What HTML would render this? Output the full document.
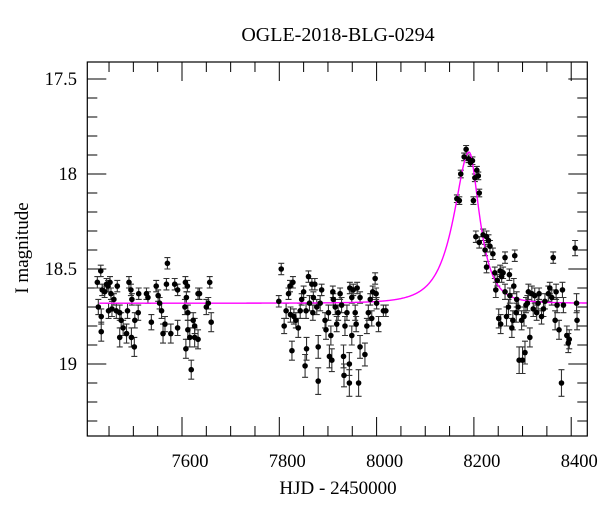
<!DOCTYPE html>
<html><head><meta charset="utf-8">
<style>
html,body{margin:0;padding:0;background:#fff;}
svg{display:block;font-family:"Liberation Serif",serif;}
</style></head>
<body>
<svg id="chart" width="600" height="512" viewBox="0 0 600 512" xmlns="http://www.w3.org/2000/svg">
<rect x="0" y="0" width="600" height="512" fill="#fff"/>
<text x="338" y="41" font-size="20" text-anchor="middle">OGLE-2018-BLG-0294</text>
<text x="338" y="494" font-size="19" text-anchor="middle">HJD - 2450000</text>
<text transform="translate(28,248) rotate(-90)" font-size="19" text-anchor="middle">I magnitude</text>
<g id="ticks"></g>
<g id="errs"></g>
<path id="model" fill="none" stroke="#ff00ff" stroke-width="1.4"/>
<g id="pts"></g>
<rect x="87.3" y="62" width="500" height="374" fill="none" stroke="#000" stroke-width="1.2"/>
</svg>
<script>
const xTickLabels = [7600, 7800, 8000, 8200, 8400];
const yTickLabels = [17.5, 18, 18.5, 19];
const modelParams = [8190, 0.53, 52, 36, 18.68]; // t0, u0, tE(rise), tE(decline), baseline
const obsDays = [7433,7426,7428,7434,7434,7436,7441,7445,7448,7452,7454,7449,7456,7460,7465,7467,7472,7475,7472,7479,7486,7488,7491,7495,7497,7496,7502,7503,7510,7511,7527,7537,7530,7547,7551,7554,7558,7561,7565,7568,7570,7577,7585,7591,7591,7606,7607,7609,7611,7612,7612,7608,7616,7619,7623,7626,7633,7636,7626,7633,7650,7654,7657,7660,
7804,7799,7810,7814,7819,7822,7826,7828,7823,7830,7834,7839,7843,7846,7850,7853,7856,7855,7860,7862,7867,7870,7873,7869,7877,7880,7880,7884,7887,7894,7896,7901,7903,7906,7908,7910,7911,7915,7918,7921,7925,7928,7932,7933,7935,7939,7944,7944,7945,7949,7949,7952,7956,7958,7960,7963,7966,7966,7976,7980,7983,7987,7990,7992,7997,7999,8000,8004,8014,8019,
8165,8170,8173,8180,8184,8189,8193,8197,8199,8202,8206,8209,8211,8204,8211,8219,8223,8226,8226,8230,8233,8239,8243,8245,8248,8251,8254,8255,8257,8260,8264,8264,8267,8271,8273,8274,8278,8280,8282,8284,8287,8288,8291,8293,8298,8300,8303,8305,8307,8310,8312,8315,8319,8322,8325,8329,8332,8334,8339,8343,8346,8353,8356,8360,8363,8367,8369,8371,8375,8380,8382,8384,8391,8394,8396,8408,8411,8412];
const obsMags = [18.51,18.57,18.70,18.75,18.83,18.61,18.62,18.58,18.59,18.57,18.63,18.72,18.71,18.66,18.72,18.59,18.73,18.77,18.86,18.81,18.84,18.72,18.57,18.61,18.66,18.86,18.91,18.77,18.73,18.63,18.63,18.78,18.65,18.59,18.64,18.68,18.72,18.84,18.79,18.58,18.47,18.84,18.58,18.61,18.81,18.70,18.57,18.65,18.59,18.73,18.82,18.92,18.86,19.03,18.77,18.80,18.63,18.63,18.86,18.87,18.70,18.68,18.57,18.78,
18.50,18.67,18.80,18.72,18.63,18.59,18.93,18.57,18.74,18.75,18.77,18.81,18.72,18.66,18.62,19.01,18.92,18.72,18.54,18.68,18.58,18.65,18.58,18.73,18.70,18.91,19.09,18.68,18.61,18.77,18.82,18.73,18.96,18.85,18.98,18.62,18.66,18.70,18.79,18.73,18.63,18.69,18.96,19.06,18.80,18.73,19.00,19.10,18.60,18.65,18.85,18.61,18.73,18.79,18.60,19.10,18.91,18.65,18.95,18.80,18.73,18.66,18.76,18.62,18.55,18.63,18.68,18.79,18.72,18.72,
18.13,18.14,18.00,17.91,17.87,17.92,17.94,17.93,18.14,18.02,17.98,18.01,18.10,18.33,18.36,18.32,18.40,18.33,18.49,18.35,18.38,18.42,18.52,18.61,18.56,18.76,18.51,18.79,18.54,18.52,18.44,18.62,18.75,18.70,18.53,18.64,18.81,18.77,18.59,18.43,18.73,18.66,18.70,18.98,18.77,18.98,18.75,18.94,18.69,18.68,18.62,18.86,18.63,18.71,18.64,18.73,18.68,18.63,18.75,18.71,18.67,18.63,18.60,18.65,18.44,18.77,18.62,18.69,18.82,19.10,18.61,18.69,18.85,18.89,18.87,18.39,18.68,18.77];
const obsErrs = [0.03,0.03,0.04,0.04,0.05,0.03,0.03,0.03,0.03,0.03,0.03,0.04,0.04,0.03,0.04,0.03,0.04,0.04,0.05,0.04,0.05,0.04,0.03,0.03,0.03,0.05,0.05,0.04,0.04,0.03,0.03,0.04,0.03,0.03,0.03,0.03,0.04,0.05,0.04,0.03,0.03,0.05,0.03,0.03,0.04,0.04,0.03,0.03,0.03,0.04,0.05,0.05,0.05,0.05,0.04,0.04,0.03,0.03,0.05,0.05,0.04,0.03,0.03,0.05,
0.03,0.03,0.04,0.04,0.03,0.03,0.05,0.03,0.04,0.04,0.04,0.05,0.04,0.03,0.03,0.06,0.06,0.04,0.03,0.04,0.03,0.03,0.03,0.04,0.04,0.06,0.07,0.04,0.03,0.04,0.05,0.04,0.06,0.05,0.06,0.03,0.03,0.04,0.04,0.04,0.03,0.04,0.06,0.06,0.05,0.04,0.06,0.07,0.03,0.03,0.05,0.03,0.04,0.04,0.03,0.07,0.06,0.03,0.06,0.04,0.04,0.03,0.04,0.03,0.03,0.03,0.03,0.04,0.03,0.03,
0.02,0.02,0.02,0.02,0.02,0.02,0.02,0.02,0.02,0.02,0.02,0.02,0.02,0.03,0.03,0.03,0.03,0.03,0.03,0.03,0.03,0.03,0.03,0.04,0.03,0.05,0.03,0.05,0.03,0.03,0.03,0.04,0.05,0.04,0.03,0.04,0.05,0.05,0.04,0.03,0.05,0.04,0.04,0.07,0.05,0.07,0.05,0.06,0.04,0.04,0.04,0.05,0.04,0.04,0.04,0.04,0.04,0.03,0.04,0.04,0.04,0.04,0.03,0.04,0.03,0.05,0.04,0.04,0.05,0.07,0.04,0.04,0.05,0.05,0.05,0.04,0.05,0.05];

const NS = "http://www.w3.org/2000/svg";
const X0 = 87.3, X1 = 587.3, Y0 = 62, Y1 = 436;
function xs(d){ return 182 + (d - 7600) * 0.4865; }
function ys(m){ return 79 + (m - 17.5) * 190; }
const dMax = 7600 + (X1 - 182) / 0.4865;

function mk(tag, attrs, parent){
  const e = document.createElementNS(NS, tag);
  for (const k in attrs) e.setAttribute(k, attrs[k]);
  parent.appendChild(e);
  return e;
}
const svg = document.getElementById('chart');
const tk = document.getElementById('ticks');
for (let d = 7450; d <= dMax; d += 50) {
  const x = xs(d);
  if (x < X0 + 1) continue;
  const major = (d % 200 === 0);
  const L = major ? 19 : 10;
  const t1 = mk('line', {x1:x, x2:x, y1:Y1, y2:Y1-L, stroke:'#000', 'stroke-width':1}, tk);
  
  
  const t2 = mk('line', {x1:x, x2:x, y1:Y0, y2:Y0+L, stroke:'#000', 'stroke-width':1}, tk);
  
  
}
xTickLabels.forEach(v => {
  const t = mk('text', {x: xs(v) + 8, y: 467, 'font-size': 18.5, 'text-anchor': 'middle'}, svg);
  t.textContent = v;
  
  
});
for (let i = 0; i <= 20; i++) {
  const m = 17.5 + i * 0.1;
  const y = ys(m);
  if (y > Y1 - 1) break;
  const major = (i % 5 === 0);
  const L = major ? 19 : 10;
  const t1 = mk('line', {x1:X0, x2:X0+L, y1:y, y2:y, stroke:'#000', 'stroke-width':1}, tk);
  
  
  const t2 = mk('line', {x1:X1, x2:X1-L, y1:y, y2:y, stroke:'#000', 'stroke-width':1}, tk);
  
  
}
yTickLabels.forEach(v => {
  const t = mk('text', {x: 77, y: ys(v) + 6, 'font-size': 18.5, 'text-anchor': 'end'}, svg);
  t.textContent = v;
  
  
});
function ampl(u){ return (u*u + 2) / (u * Math.sqrt(u*u + 4)); }
function modelMag(t){
  const [t0, u0, tE1, tE2, base] = modelParams;
  const tE = t < t0 ? tE1 : tE2;
  const tau = (t - t0) / tE;
  const A = ampl(Math.sqrt(u0*u0 + tau*tau));
  return base - 2.5 * Math.log10(A);
}
let dStr = '';
for (let t = 7430; t <= dMax; t += 1) {
  dStr += (dStr ? 'L' : 'M') + xs(t).toFixed(2) + ',' + ys(modelMag(t)).toFixed(2);
}
document.getElementById('model').setAttribute('d', dStr);
const eg = document.getElementById('errs'), pg = document.getElementById('pts');
for (let i = 0; i < obsDays.length; i++) {
  const x = xs(obsDays[i]), y = ys(obsMags[i]);
  const ya = ys(obsMags[i] - obsErrs[i]), yb = ys(obsMags[i] + obsErrs[i]);
  const e = mk('path', {d:`M${x},${ya}L${x},${yb}M${x-3},${ya}L${x+3},${ya}M${x-3},${yb}L${x+3},${yb}`, stroke:'#333', 'stroke-width':1.1, fill:'none'}, eg);
  
  
  const c = mk('circle', {cx:x, cy:y, r:2.8, fill:'#000'}, pg);
  
  
}
</script>
</body></html>
